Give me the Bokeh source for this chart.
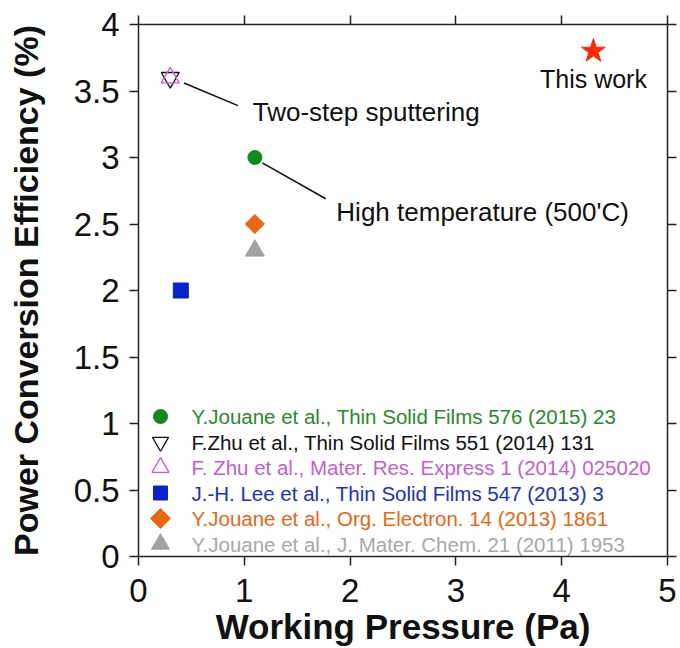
from bokeh.plotting import figure
from bokeh.models import Range1d, LinearAxis, FixedTicker, Label
from bokeh.core.properties import value
from bokeh.embed import file_html
from bokeh.resources import INLINE
import math

# ---------------- data ----------------
x_ticks = [0, 1, 2, 3, 4, 5]
x_tick_labels = ["0", "1", "2", "3", "4", "5"]
y_ticks = [0, 0.5, 1, 1.5, 2, 2.5, 3, 3.5, 4]
y_tick_labels = ["0", "0.5", "1", "1.5", "2", "2.5", "3", "3.5", "4"]

x_title = "Working Pressure (Pa)"
y_title = "Power Conversion Efficiency (%)"

series_names = [
    "Y.Jouane et al., Thin Solid Films 576 (2015) 23",
    "F.Zhu et al., Thin Solid Films 551 (2014) 131",
    "F. Zhu et al., Mater. Res. Express 1 (2014) 025020",
    "J.-H. Lee et al., Thin Solid Films 547 (2013) 3",
    "Y.Jouane et al., Org. Electron. 14 (2013) 1861",
    "Y.Jouane et al., J. Mater. Chem. 21 (2011) 1953",
]
series_pressure = [1.1, 0.3, 0.3, 0.4, 1.1, 1.1]
series_pce = [3.0, 3.6, 3.6, 2.0, 2.5, 2.3]

this_work_pressure = [4.3]
this_work_pce = [3.8]
this_work_label = "This work"

annot_texts = ["Two-step sputtering", "High temperature (500'C)"]
annot_text_x = [1.08, 1.87]
annot_text_y = [3.34, 2.59]
leader_x0 = [0.43, 1.17]
leader_y0 = [3.56, 2.96]
leader_x1 = [0.94, 1.77]
leader_y1 = [3.39, 2.69]

# ---------------- styles ----------------
markers = ["circle", "inverted_triangle", "triangle", "square", "square", "triangle"]
marker_sizes = [14, 18, 18, 15, 13.5, 19]
marker_angles = [0, 0, 0, 0, math.pi / 4, 0]
marker_fill = ["#0f8a1e", None, None, "#0a22cc", "#ee6512", "#a3a3a3"]
marker_line = ["#0f8a1e", "#111111", "#c35fd6", "#0a22cc", "#ee6512", "#a3a3a3"]
marker_lw = [1, 1.3, 1.3, 1, 1, 1]
text_colors = ["#2a8a2a", "#111111", "#c35fd6", "#1a30c8", "#ee6512", "#a8a8a8"]
legend_marker_sizes = [14, 16, 17, 14, 14, 18]
# legend layout, in plot-frame pixels (from the frame's bottom-left corner)
legend_glyph_x = 22
legend_text_x = 53
legend_rows = [140, 114.5, 89, 63.5, 38, 12.5]

FONT = "Liberation Sans"
AXCOL = "#222222"
FRAME_W = 529
FRAME_H = 532

p = figure(width=680, height=648, output_backend="svg", toolbar_location=None,
           x_range=Range1d(0, 5), y_range=Range1d(0, 4),
           min_border_left=138, min_border_right=13, min_border_top=24, min_border_bottom=92)
p.outline_line_color = None
p.xgrid.visible = False
p.ygrid.visible = False
p.background_fill_color = "white"
p.border_fill_color = "white"
p.extra_x_ranges = {"legx": Range1d(0, FRAME_W)}
p.extra_y_ranges = {"legy": Range1d(0, FRAME_H)}


def style_axis(ax, tick_out):
    ax.axis_line_color = AXCOL
    ax.axis_line_width = 1.5
    ax.major_tick_line_color = AXCOL
    ax.major_tick_line_width = 1.5
    ax.major_tick_in = 0
    ax.major_tick_out = tick_out
    ax.minor_tick_line_color = None


xa = p.xaxis[0]
xa.ticker = FixedTicker(ticks=x_ticks)
xa.major_label_overrides = {t: l for t, l in zip(x_ticks, x_tick_labels)}
style_axis(xa, 9)
xa.major_label_text_font = FONT
xa.major_label_text_font_size = "33px"
xa.major_label_text_color = "#111111"
xa.major_label_standoff = 13
xa.axis_label = x_title
xa.axis_label_text_font = FONT
xa.axis_label_text_font_size = "35px"
xa.axis_label_text_font_style = "bold"
xa.axis_label_text_color = "#111111"
xa.axis_label_standoff = 2

ya = p.yaxis[0]
ya.ticker = FixedTicker(ticks=y_ticks)
ya.major_label_overrides = {t: l for t, l in zip(y_ticks, y_tick_labels)}
style_axis(ya, 9)
ya.major_label_text_font = FONT
ya.major_label_text_font_size = "33px"
ya.major_label_text_color = "#111111"
ya.major_label_standoff = 10
ya.axis_label = y_title
ya.axis_label_text_font = FONT
ya.axis_label_text_font_size = "34px"
ya.axis_label_text_font_style = "bold"
ya.axis_label_text_color = "#111111"
ya.axis_label_standoff = 26

top = LinearAxis(ticker=FixedTicker(ticks=x_ticks))
style_axis(top, 9)
top.major_label_text_color = None
top.major_label_text_font_size = "0px"
top.major_label_standoff = 0
p.add_layout(top, "above")

right = LinearAxis(ticker=FixedTicker(ticks=y_ticks))
style_axis(right, 9)
right.major_label_text_color = None
right.major_label_text_font_size = "0px"
right.major_label_standoff = 0
p.add_layout(right, "right")

# leader lines
p.segment(x0=leader_x0, y0=leader_y0, x1=leader_x1, y1=leader_y1,
          line_color="#111111", line_width=1.5)

for i in range(len(series_names)):
    # data point
    p.scatter(x=[series_pressure[i]], y=[series_pce[i]], marker=markers[i],
              size=marker_sizes[i], angle=marker_angles[i],
              fill_color=marker_fill[i], line_color=marker_line[i],
              line_width=marker_lw[i])
    # legend marker
    p.scatter(x=[legend_glyph_x], y=[legend_rows[i]], marker=markers[i],
              size=legend_marker_sizes[i], angle=marker_angles[i],
              fill_color=marker_fill[i], line_color=marker_line[i],
              line_width=marker_lw[i], x_range_name="legx", y_range_name="legy")

# legend labels
p.text(x=[legend_text_x] * len(series_names), y=legend_rows, text=series_names,
       text_color=text_colors, text_font=value(FONT), text_font_size="20.5px",
       text_baseline="middle", text_align="left",
       x_range_name="legx", y_range_name="legy")

p.scatter(x=this_work_pressure, y=this_work_pce, marker="star", size=25,
          fill_color="#ff2a00", line_color="#ff2a00")

for t, x, y in zip(annot_texts, annot_text_x, annot_text_y):
    p.add_layout(Label(x=x, y=y, text=t, text_font=FONT, text_font_size="26px",
                       text_baseline="middle", text_align="left", text_color="#111111"))

p.add_layout(Label(x=this_work_pressure[0], y=this_work_pce[0], y_offset=-28,
                   text=this_work_label, text_font=FONT, text_font_size="25px",
                   text_baseline="middle", text_align="center", text_color="#111111"))

open("out.html", "w").write(file_html(p, INLINE))
